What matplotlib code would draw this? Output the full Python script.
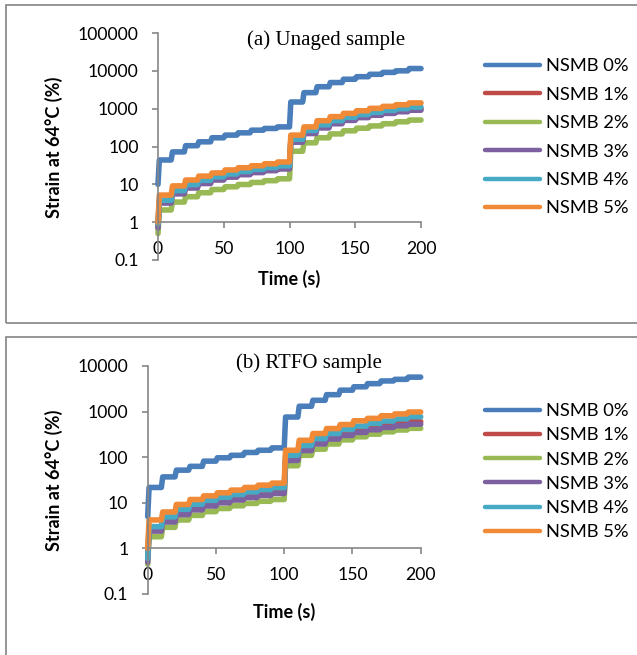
import numpy as np
import matplotlib
matplotlib.use('Agg')
import matplotlib.pyplot as plt
from matplotlib.patches import Rectangle
from matplotlib.ticker import FixedLocator, FuncFormatter

plt.rcParams['font.family'] = ['Lato', 'DejaVu Sans']

# MSCR creep steps: strain (%) reached in each of the 20 cycles (10 s each)
labels = ['NSMB 0%', 'NSMB 1%', 'NSMB 2%', 'NSMB 3%', 'NSMB 4%', 'NSMB 5%']
colors = ['#4A7EBB', '#BE4B48', '#98B954', '#7D60A0', '#46AAC5', '#F08A36']
cycle_start = np.arange(0, 200, 10)

# (a) unaged
unaged_start = [10, 0.8, 0.5, 0.7, 0.9, 1.0]
unaged = [
    [44, 72, 105, 133, 170, 200, 230, 270, 300, 330,
     1500, 2650, 3800, 4900, 6000, 7000, 8100, 9100, 10000, 11500],
    [3.5, 6.0, 8.6, 11.2, 13.8, 16.4, 19, 21.6, 24.2, 27,
     140, 240, 340, 440, 540, 630, 720, 810, 900, 1000],
    [2.1, 3.4, 4.7, 6.0, 7.3, 8.6, 9.9, 11.2, 12.5, 14,
     75, 125, 170, 215, 260, 305, 350, 400, 450, 500],
    [3.2, 5.6, 8.0, 10.5, 13, 15.5, 18, 20.5, 23, 25.5,
     130, 220, 310, 400, 490, 580, 670, 750, 830, 910],
    [3.8, 6.8, 9.8, 12.8, 15.8, 18.8, 21.8, 24.8, 27.8, 30.8,
     155, 265, 375, 480, 590, 700, 800, 900, 1000, 1100],
    [5.2, 9.1, 13, 16.5, 20, 24, 27.5, 31, 35, 39,
     200, 330, 480, 615, 750, 880, 1020, 1150, 1270, 1420],
]

# (b) RTFO aged
rtfo_start = [5, 0.6, 0.45, 0.5, 0.6, 1.0]
rtfo = [
    [21.7, 37, 52, 63, 82, 97, 110, 127, 142, 160,
     760, 1310, 1770, 2350, 2950, 3500, 4100, 4700, 5100, 5700],
    [2.5, 4.0, 5.8, 7.4, 9.0, 10.6, 12.2, 13.8, 15.4, 17,
     90, 150, 210, 270, 330, 390, 450, 500, 550, 600],
    [1.8, 2.9, 4.2, 5.3, 6.4, 7.5, 8.6, 9.7, 10.8, 11.8,
     65, 110, 150, 195, 240, 280, 320, 360, 395, 430],
    [2.4, 3.8, 5.5, 7.0, 8.5, 10, 11.5, 13, 14.5, 16,
     85, 140, 195, 250, 300, 350, 400, 450, 490, 530],
    [3.0, 4.9, 7.2, 9.3, 11.3, 13.2, 15.2, 17.3, 19.4, 21.5,
     110, 180, 255, 330, 405, 480, 550, 620, 690, 770],
    [4.2, 6.3, 9.2, 11.8, 14.2, 16.6, 19, 21.7, 24.4, 27,
     142, 235, 330, 425, 520, 630, 710, 810, 890, 980],
]


def steps(y0, levels):
    # each cycle: 1 s creep up to the level, then held until the next cycle
    t = [0]
    y = [y0]
    for t0, lv in zip(cycle_start, levels):
        t += [t0 + 1, t0 + 10]
        y += [lv, lv]
    return t, y


fig = plt.figure(figsize=(6.37, 6.55), dpi=100)
W, H = 637, 655

# grey frames around each panel
for (x0, y0, x1, y1) in [(6, 5, 660, 323.5), (6, 336.7, 660, 680)]:
    fig.add_artist(Rectangle((x0 / W, 1 - y1 / H), (x1 - x0) / W, (y1 - y0) / H,
                             transform=fig.transFigure, fill=False,
                             edgecolor='#8C8C8C', lw=1.3, clip_on=False))

panels = [
    dict(rect=[158 / W, 1 - 260 / H, 263 / W, 227 / H], start=unaged_start, data=unaged,
         ymax=100000, title='(a) Unaged sample', title_xy=(326, 45),
         ylab=(54, 147.5), xlab=(289, 279), leg_y=137.3, leg_sp=0.68),
    dict(rect=[147.7 / W, 1 - 594 / H, 273 / W, 228 / H], start=rtfo_start, data=rtfo,
         ymax=10000, title='(b) RTFO sample', title_xy=(309, 368),
         ylab=(54, 480), xlab=(284, 612), leg_y=471.7, leg_sp=0.45),
]

for p in panels:
    ax = fig.add_axes(p['rect'])
    for lab, col, y0, lv in zip(labels, colors, p['start'], p['data']):
        t, y = steps(y0, lv)
        ax.plot(t, y, color=col, lw=4, label=lab, solid_joinstyle='round',
                solid_capstyle='round', clip_on=False)

    ax.set_yscale('log')
    ax.set_ylim(0.1, p['ymax'])
    ax.set_xlim(0, 200)
    yt = [10.0 ** k for k in range(-1, int(np.log10(p['ymax'])) + 1)]
    ax.yaxis.set_major_locator(FixedLocator(yt))
    ax.yaxis.set_minor_locator(FixedLocator([]))
    ax.yaxis.set_major_formatter(FuncFormatter(lambda v, pos: '%g' % v))
    ax.set_xticks([0, 50, 100, 150, 200])

    for s in ['top', 'right']:
        ax.spines[s].set_visible(False)
    ax.spines['bottom'].set_position(('data', 1))
    for s in ['left', 'bottom']:
        ax.spines[s].set_color('#868686')
        ax.spines[s].set_linewidth(1.2)
    ax.tick_params(axis='y', direction='out', length=4, width=1.2, color='#868686',
                   pad=10, labelsize=12.7)
    ax.tick_params(axis='x', direction='out', length=4.5, width=1.2, color='#868686',
                   pad=9, labelsize=12.7)
    ax.patch.set_alpha(0)

    rx, ry, rw, rh = p['rect']
    ax.set_ylabel('Strain at 64°C (%)', fontsize=13, fontweight='bold')
    ax.yaxis.label.set_verticalalignment('center')
    ax.yaxis.set_label_coords((p['ylab'][0] / W - rx) / rw,
                              (1 - p['ylab'][1] / H - ry) / rh)
    ax.set_xlabel('Time (s)', fontsize=13, fontweight='bold')
    ax.xaxis.label.set_verticalalignment('center')
    ax.xaxis.set_label_coords((p['xlab'][0] / W - rx) / rw,
                              (1 - p['xlab'][1] / H - ry) / rh)

    fig.text(p['title_xy'][0] / W, 1 - p['title_xy'][1] / H, p['title'],
             family='Liberation Serif', fontsize=15, ha='center', va='baseline')

    leg = ax.legend(loc='center left', bbox_to_anchor=(485 / W, 1 - p['leg_y'] / H),
                    bbox_transform=fig.transFigure, frameon=False, fontsize=13.2,
                    handlelength=3.0, handletextpad=0.3, borderpad=0, borderaxespad=0,
                    labelspacing=p['leg_sp'])
    for ln in leg.get_lines():
        ln.set_linewidth(3.2)
        ln.set_solid_capstyle('round')

fig.savefig('out.png', dpi=100)
